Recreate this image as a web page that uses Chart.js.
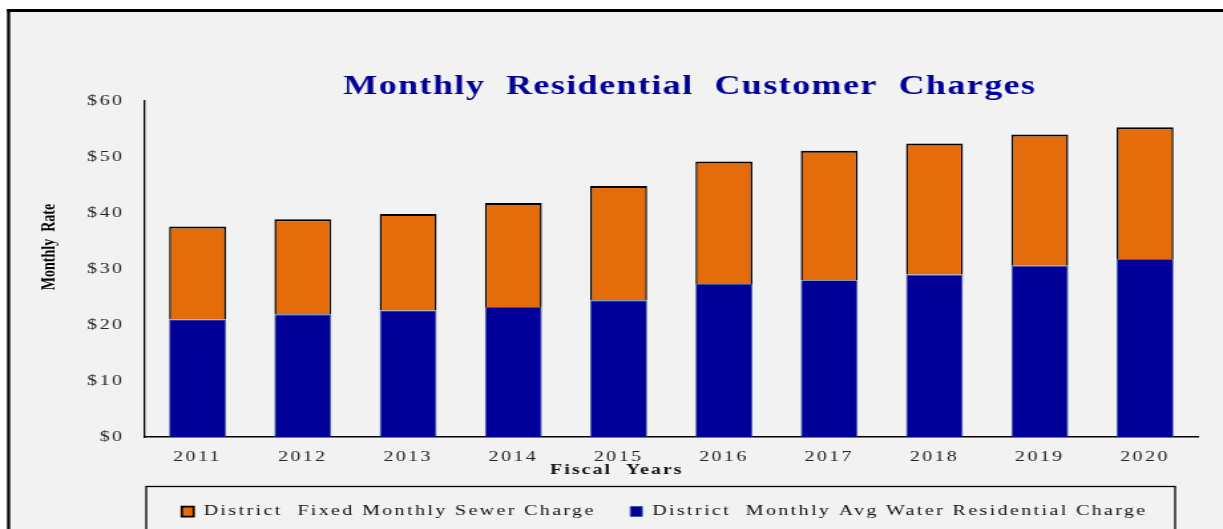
<!DOCTYPE html>
<html>
<head>
<meta charset="utf-8">
<script src="https://cdn.jsdelivr.net/npm/chart.js@4.4.0/dist/chart.umd.min.js"></script>
<style>
  html, body { margin: 0; padding: 0; background: #ffffff; overflow: hidden; }
  /* the reference is an Excel chart stretched sideways; draw narrow, then widen */
  #charges_chart { display: block; transform: scaleX(1.3293); transform-origin: 0 0; }
</style>
</head>
<body>
<canvas id="charges_chart" width="920" height="529"></canvas>
<script>
// values
var years = ['2011', '2012', '2013', '2014', '2015', '2016', '2017', '2018', '2019', '2020'];
var waterCharge = [21.0, 21.9, 22.6, 23.2, 24.4, 27.3, 28.0, 29.0, 30.6, 31.8];
var sewerCharge = [16.6, 17.0, 17.2, 18.6, 20.4, 21.9, 23.1, 23.4, 23.4, 23.5];
var yTicks = [0, 10, 20, 30, 40, 50, 60];

var chartTitle = 'Monthly  Residential  Customer  Charges';
var xTitle = 'Fiscal  Years';
var yTitle = 'Monthly  Rate';

var serif = "'Liberation Serif', 'Times New Roman', serif";
var spacing = '1.8px';

var framePlugin = {
  id: 'frame',
  beforeUpdate: function (chart) { chart.ctx.letterSpacing = spacing; },
  afterLayout: function (chart) {
    // legend sits a little left of the plot centre
    chart.legend.left -= 5;
    chart.legend.right -= 5;
  },
  beforeDraw: function (chart) {
    var ctx = chart.ctx;
    ctx.letterSpacing = spacing;
    ctx.save();
    ctx.fillStyle = '#ffffff';
    ctx.fillRect(0, 0, chart.width, chart.height);
    ctx.fillStyle = '#f2f2f2';
    ctx.fillRect(6, 10, chart.width - 6, chart.height - 10);
    ctx.fillStyle = '#000000';
    ctx.fillRect(5.3, 9, 2.3, chart.height - 9);
    ctx.fillRect(5.3, 9, chart.width, 3);
    ctx.restore();
  },
  afterDraw: function (chart) {
    var ctx = chart.ctx;
    var area = chart.chartArea;

    // main title
    ctx.save();
    ctx.font = 'bold 27px ' + serif;
    ctx.letterSpacing = '1.1px';
    ctx.fillStyle = '#000099';
    ctx.textBaseline = 'alphabetic';
    ctx.textAlign = 'left';
    var w = ctx.measureText(chartTitle).width;
    ctx.fillText(chartTitle, 519 - w / 2, 94);
    ctx.restore();

    // x axis title
    ctx.save();
    ctx.font = 'bold 15px ' + serif;
    ctx.letterSpacing = '1.5px';
    ctx.fillStyle = '#111111';
    ctx.textBaseline = 'middle';
    ctx.textAlign = 'left';
    w = ctx.measureText(xTitle).width;
    ctx.fillText(xTitle, 464 - w / 2, 470);
    ctx.restore();

    // y axis title
    ctx.save();
    ctx.letterSpacing = '0px';
    ctx.translate(37, (area.top + area.bottom) / 2 - 22);
    ctx.rotate(-Math.PI / 2);
    ctx.font = 'bold 14px ' + serif;
    ctx.fillStyle = '#000000';
    ctx.textAlign = 'center';
    ctx.textBaseline = 'middle';
    ctx.fillText(yTitle, 0, 0);
    ctx.restore();

    // legend frame
    var lg = chart.legend;
    ctx.save();
    ctx.strokeStyle = '#000000';
    ctx.lineWidth = 1.3;
    ctx.strokeRect(110, lg.top + 8.5, 774, 60);
    ctx.restore();
  }
};

var ctx = document.getElementById('charges_chart');
var chargesChart = new Chart(ctx, {
  type: 'bar',
  data: {
    labels: years,
    datasets: [{
      label: 'District  Monthly Avg Water Residential Charge',
      data: waterCharge,
      backgroundColor: '#000099',
      borderColor: '#2f5597',
      borderWidth: 0.8,
      barPercentage: 0.54,
      categoryPercentage: 1
    }, {
      label: 'District  Fixed Monthly Sewer Charge',
      data: sewerCharge,
      backgroundColor: '#e46c0a',
      borderColor: '#000000',
      borderWidth: { top: 2, bottom: 2, left: 1.5, right: 1.5 },
      barPercentage: 0.54,
      categoryPercentage: 1
    }]
  },
  options: {
    responsive: false,
    devicePixelRatio: 1,
    animation: false,
    layout: { padding: { top: 101, right: 19, left: 0, bottom: 0 } },
    plugins: {
      title: { display: false },
      tooltip: { enabled: false },
      legend: {
        position: 'bottom',
        fullSize: false,
        reverse: true,
        labels: {
          boxWidth: 9,
          boxHeight: 10,
          padding: 26,
          color: '#111111',
          font: { family: serif, size: 15 }
        }
      }
    },
    scales: {
      x: {
        stacked: true,
        grid: { display: false },
        border: { display: true, color: '#000000', width: 1.5 },
        ticks: { color: '#222222', padding: 3, font: { family: serif, size: 15 } },
        afterFit: function (scale) { scale.height = 41; }
      },
      y: {
        stacked: true,
        min: 0,
        max: 60,
        grid: { display: false },
        border: { display: true, color: '#000000', width: 1.3 },
        afterBuildTicks: function (scale) {
          scale.ticks = yTicks.map(function (v) { return { value: v }; });
        },
        ticks: {
          color: '#222222',
          padding: 7.5,
          font: { family: serif, size: 15 },
          callback: function (v) { return '$' + v; }
        },
        afterFit: function (scale) { scale.width = 109; }
      }
    }
  },
  plugins: [framePlugin]
});
</script>
</body>
</html>
